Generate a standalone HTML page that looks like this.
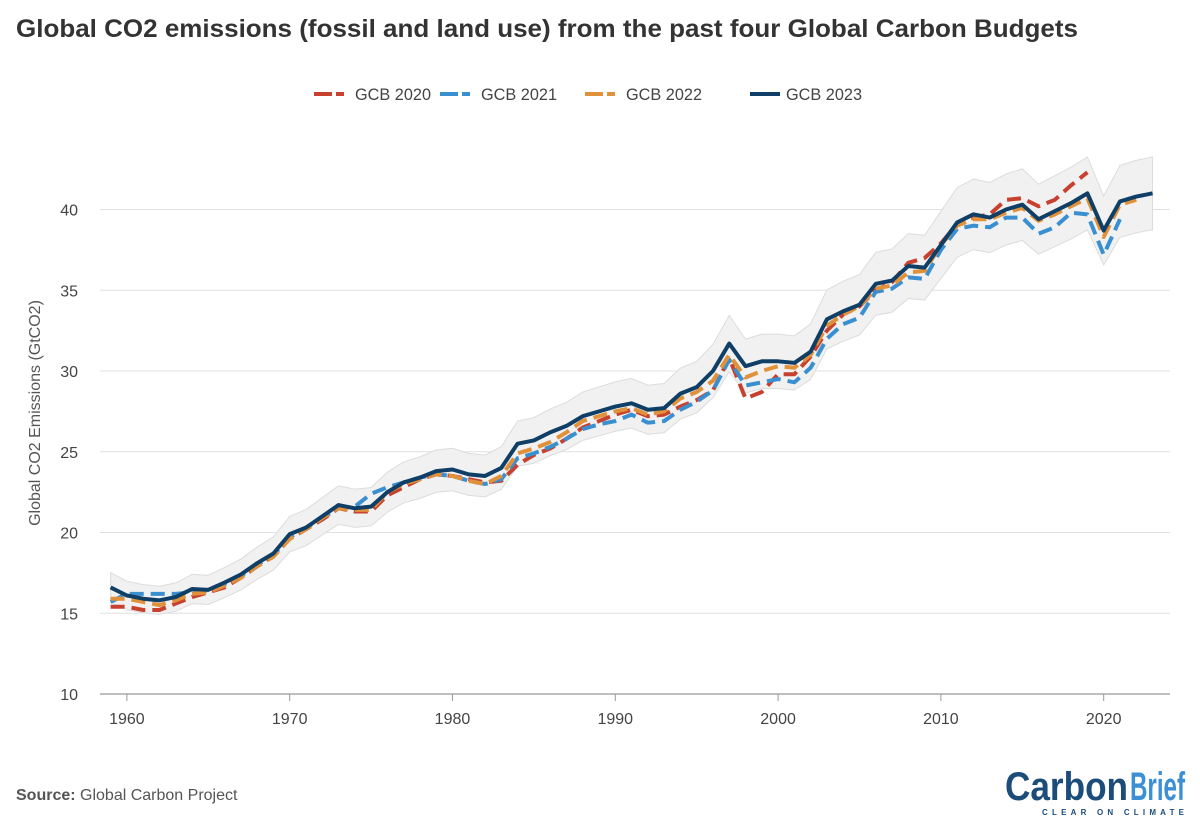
<!DOCTYPE html>
<html><head><meta charset="utf-8"><style>
body{margin:0;background:#fff;font-family:"Liberation Sans",sans-serif;}
#wrap{position:relative;width:1200px;height:829px;overflow:hidden;}
</style></head><body>
<div id="wrap">
<svg id="chart" width="1200" height="829" xmlns="http://www.w3.org/2000/svg">
<text x="16" y="37" font-size="25" font-weight="bold" fill="#333" textLength="1062" lengthAdjust="spacingAndGlyphs">Global CO2 emissions (fossil and land use) from the past four Global Carbon Budgets</text>
<g id="legend"></g>
<g id="grid"></g>
<g id="band"></g>
<g id="series"></g>
<g id="axes"></g>
<text transform="translate(40,413) rotate(-90)" text-anchor="middle" font-size="16" fill="#555">Global CO2 Emissions (GtCO2)</text>
<text x="16" y="800" font-size="16" fill="#555"><tspan font-weight="bold">Source:</tspan> Global Carbon Project</text>
<g>
<text x="1005" y="800" font-size="40" font-weight="bold" fill="#1c4c7a" textLength="123" lengthAdjust="spacingAndGlyphs">Carbon</text>
<text x="1130" y="800" font-size="40" font-weight="bold" fill="#3b8fd4" textLength="55" lengthAdjust="spacingAndGlyphs">Brief</text>
<text x="1042" y="815" font-size="8" font-weight="bold" fill="#1c4c7a" textLength="142" lengthAdjust="spacing">CLEAR ON CLIMATE</text>
</g>
</svg>
</div>
<script>
const startYear = 1959;
const gcb2020 = [15.4,15.4,15.2,15.2,15.6,16.0,16.3,16.6,17.2,17.9,18.6,19.6,20.2,20.8,21.5,21.3,21.3,22.3,22.8,23.3,23.6,23.5,23.3,23.1,23.2,24.2,24.8,25.2,25.8,26.5,26.9,27.3,27.6,27.2,27.3,27.8,28.2,28.8,30.8,28.3,28.7,29.8,29.8,30.9,32.5,33.5,34.0,35.0,35.5,36.7,37.0,37.9,39.1,39.5,39.7,40.6,40.7,40.2,40.6,41.5,42.3];
const gcb2021 = [15.7,16.2,16.2,16.2,16.2,16.3,16.4,16.8,17.3,18.0,18.6,19.7,20.3,20.9,21.5,21.6,22.4,22.8,23.1,23.4,23.6,23.5,23.2,23.0,23.3,24.6,24.9,25.3,25.8,26.4,26.7,26.9,27.3,26.8,26.9,27.6,28.1,28.8,30.7,29.1,29.3,29.5,29.3,30.2,32.0,32.9,33.3,34.9,35.1,35.8,35.7,37.5,38.8,39.0,38.9,39.5,39.5,38.5,38.9,39.8,39.7,37.2,39.4];
const gcb2022 = [15.9,15.9,15.7,15.5,15.8,16.2,16.3,16.7,17.2,17.9,18.5,19.6,20.2,20.9,21.5,21.4,21.4,22.5,23.0,23.3,23.6,23.5,23.2,23.0,23.5,24.9,25.2,25.6,26.2,26.9,27.2,27.5,27.7,27.3,27.5,28.3,28.7,29.4,31.0,29.6,30.0,30.3,30.2,31.0,32.8,33.5,34.0,35.1,35.3,36.1,36.2,37.8,39.0,39.4,39.4,39.8,40.1,39.3,39.7,40.2,40.7,38.3,40.3,40.6];
const gcb2023 = [16.6,16.1,15.9,15.8,16.0,16.5,16.45,16.9,17.4,18.1,18.7,19.9,20.3,21.0,21.7,21.5,21.6,22.5,23.1,23.4,23.8,23.9,23.6,23.5,24.0,25.5,25.7,26.2,26.6,27.2,27.5,27.8,28.0,27.6,27.7,28.6,29.0,30.0,31.7,30.3,30.6,30.6,30.5,31.2,33.2,33.7,34.1,35.4,35.6,36.5,36.4,37.8,39.2,39.7,39.5,40.0,40.3,39.4,39.9,40.4,41.0,38.7,40.5,40.8,41.0];
const bandPct = 0.055;
const yTicks = [10,15,20,25,30,35,40];
const xTicks = [1960,1970,1980,1990,2000,2010,2020];
const seriesNames = ["GCB 2020","GCB 2021","GCB 2022","GCB 2023"];
const seriesColors = ["#c8412e","#3a8fd0","#e0913a","#0f3f66"];

const NS="http://www.w3.org/2000/svg";
const X0=110.6, PXY=16.28, Y0=694, PXV=16.15;
const xs=y=>X0+(y-1959)*PXY;
const ys=v=>Y0-(v-10)*PXV;
function mk(tag,attrs,parent){const e=document.createElementNS(NS,tag);for(const k in attrs)e.setAttribute(k,attrs[k]);parent.appendChild(e);return e;}
const grid=document.getElementById('grid'),axes=document.getElementById('axes'),band=document.getElementById('band'),ser=document.getElementById('series'),leg=document.getElementById('legend');
yTicks.forEach(v=>{
  const l=mk('line',{x1:100,x2:1170,y1:ys(v),y2:ys(v),stroke:v===10?'#999':'#e0e0e0','stroke-width':v===10?1.3:1},grid);
  
  
  const t=mk('text',{x:78,y:ys(v)+6,'text-anchor':'end','font-size':16,fill:'#444'},axes);
  t.textContent=v;
  
  
});
xTicks.forEach(y=>{
  const l=mk('line',{x1:xs(y),x2:xs(y),y1:694,y2:701,stroke:'#999'},axes);
  
  
  const t=mk('text',{x:xs(y),y:724,'text-anchor':'middle','font-size':16,fill:'#444'},axes);
  t.textContent=y;
  
  
});
let up=[],lo=[];
gcb2023.forEach((v,i)=>{up.push(xs(startYear+i)+','+ys(v*(1+bandPct)));lo.unshift(xs(startYear+i)+','+ys(v*(1-bandPct)));});
const bp=mk('polygon',{points:up.concat(lo).join(' '),fill:'#f1f1f1',stroke:'#dcdcdc','stroke-width':1},band);


const all=[gcb2020,gcb2021,gcb2022,gcb2023];
all.forEach((arr,k)=>{
  const pts=arr.map((v,i)=>xs(startYear+i)+','+ys(v)).join(' ');
  const attrs={points:pts,fill:'none',stroke:seriesColors[k],'stroke-width':4,'stroke-linejoin':'round'};
  if(k<3)attrs['stroke-dasharray']='14,7';
  const p=mk('polyline',attrs,ser);
  
  
});
const lx=[314,440,585,750];
seriesNames.forEach((n,k)=>{
  const g=mk('g',{},leg);
  
  
  const a={x1:lx[k],x2:lx[k]+(k<3?33:30),y1:94,y2:94,stroke:seriesColors[k],'stroke-width':4};
  if(k<3)a['stroke-dasharray']='18,4,8,100';
  mk('line',a,g);
  const t=mk('text',{x:lx[k]+(k<3?41:36),y:100,'font-size':17,fill:'#444',textLength:76,lengthAdjust:'spacingAndGlyphs'},g);
  t.textContent=n;
});
</script>
</body></html>
